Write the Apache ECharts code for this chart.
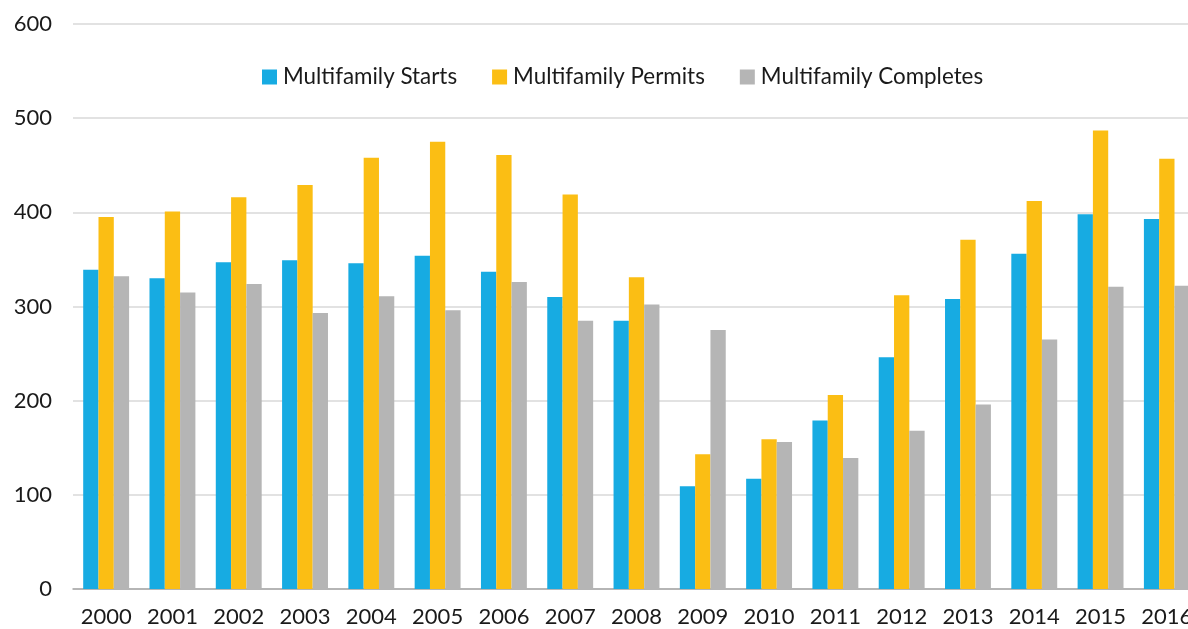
<!DOCTYPE html>
<html><head><meta charset="utf-8">
<script src="https://cdn.jsdelivr.net/npm/echarts@6/dist/echarts.min.js"></script>
<style>html,body{margin:0;padding:0;background:#fff;overflow:hidden}#c{width:1188px;height:629px}</style>
</head><body><div id="c"></div>
<script>
const years = ['2000','2001','2002','2003','2004','2005','2006','2007','2008','2009','2010','2011','2012','2013','2014','2015','2016'];
const starts = [339,330,347,349,346,354,337,310,285,109,117,179,246,308,356,398,393];
const permits = [395,401,416,429,458,475,461,419,331,143,159,206,312,371,412,487,457];
const completes = [332,315,324,293,311,296,326,285,302,275,156,139,168,196,265,321,322];
const yTicks = [0,100,200,300,400,500,600];
const chart = echarts.init(document.getElementById('c'));
const font = 'Lato, "Noto Sans", sans-serif';
chart.setOption({
  animation:false,
  textStyle:{fontFamily:font},
  legend:{top:61,left:257,itemWidth:15,itemHeight:15,itemGap:35,icon:'rect',
    textStyle:{fontSize:22.4,color:'#1a1a1a',fontFamily:font,padding:[0,0,0,1]}},
  grid:{left:73,width:1127,top:24,bottom:40,containLabel:false,outerBoundsMode:'none'},
  xAxis:{type:'category',data:years,
    axisLine:{lineStyle:{color:'#a6a6a6',width:1.5}},axisTick:{show:false},
    axisLabel:{fontSize:22,color:'#1a1a1a',margin:17,fontFamily:font,interval:0,hideOverlap:false}},
  yAxis:{type:'value',min:0,max:600,interval:100,
    axisLine:{show:false},axisTick:{show:false},
    splitLine:{lineStyle:{color:'#d9d9d9',width:1.5}},
    axisLabel:{fontSize:22,color:'#1a1a1a',margin:21,fontFamily:font,
      formatter:v=>yTicks.includes(v)?String(v):''}},
  series:[
    {name:'Multifamily Starts',type:'bar',data:starts,barWidth:15.3,barGap:'0%',itemStyle:{color:'#17abe2'}},
    {name:'Multifamily Permits',type:'bar',data:permits,barWidth:15.3,barGap:'0%',itemStyle:{color:'#fbbe14'}},
    {name:'Multifamily Completes',type:'bar',data:completes,barWidth:15.3,barGap:'0%',itemStyle:{color:'#b5b5b5'}}
  ]
});
</script></body></html>
